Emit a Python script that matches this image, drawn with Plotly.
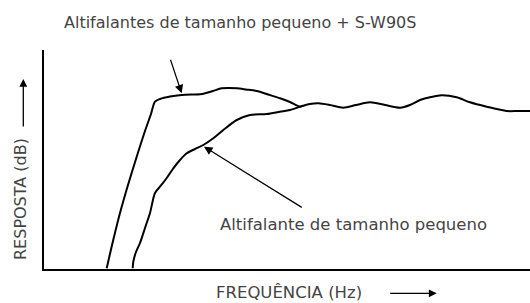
import plotly.graph_objects as go

# Relative units (frequency -> right, response -> up)
freq_combo = [106.7, 113, 120, 128, 136.7, 145, 151, 155, 160, 170, 181.7, 192, 200, 207, 213, 221.7, 229, 236.7, 246, 256.7, 268, 280, 290, 300, 303.3]
resp_combo = [0.7, 28, 56, 84, 112.3, 138, 155, 167.3, 170, 172.5, 174, 174.5, 174.7, 176.3, 178, 180.7, 181, 180.7, 179.5, 178, 174.5, 170.7, 167, 162.3, 163.3]

freq_small = [132.7, 133.3, 136, 140, 145, 150, 155, 160, 166, 173.3, 180, 186.7, 195, 203.3, 213.3, 223.3, 236.7, 250, 266.7, 280, 290, 303.3, 310, 318.3, 330, 343.3, 356, 370, 385, 400, 410, 420, 431, 441.7, 456.7, 470, 486.7, 506.7, 518, 530]
resp_small = [0.7, 7.3, 17, 26, 41, 56, 76, 82.3, 90, 100.7, 109, 115.7, 120, 124, 130.7, 139, 149, 154, 155, 157.3, 159, 163.3, 165, 165.7, 164, 161.3, 164, 166.7, 164, 161.3, 164, 169, 172, 173.7, 171.7, 166.7, 162.3, 158, 158, 158]

fig = go.Figure()
fig.add_trace(go.Scatter(x=freq_combo, y=resp_combo, mode="lines",
                         line=dict(color="black", width=2, shape="spline", smoothing=0.8),
                         hoverinfo="skip", showlegend=False))
fig.add_trace(go.Scatter(x=freq_small, y=resp_small, mode="lines",
                         line=dict(color="black", width=2, shape="spline", smoothing=0.8),
                         hoverinfo="skip", showlegend=False))

L, T, B = 44, 50, 34
W, H = 530, 303
PW, PH = W - L, H - T - B

def px(xp):
    return (xp - L) / PW

def py(yp):
    return (H - B - yp) / PH

FONT = "DejaVu Sans"
TC = "#444444"
C = dict(xanchor="center", yanchor="middle", showarrow=False)

anns = [
    dict(text="Altifalantes de tamanho pequeno + S-W90S", xref="paper", yref="paper",
         x=px(239.5), y=py(22.5), font=dict(family=FONT, size=16, color=TC), **C),
    dict(text="Altifalante de tamanho pequeno", xref="x", yref="y",
         x=353.3, y=PH + T - 224.5, font=dict(family=FONT, size=16.5, color=TC), **C),
    dict(text="RESPOSTA (dB)", xref="paper", yref="paper", textangle=-90,
         x=px(20), y=py(199), font=dict(family=FONT, size=16, color=TC), **C),
    dict(text="FREQUÊNCIA (Hz)", xref="paper", yref="paper",
         x=px(288.7), y=py(292.5), font=dict(family=FONT, size=16.5, color=TC), **C),
    # axis arrows
    dict(text="", xref="paper", yref="paper", x=px(23.3), y=py(79), ax=0, ay=49,
         showarrow=True, arrowhead=2, arrowsize=1.2, arrowwidth=1.3, arrowcolor="black"),
    dict(text="", xref="paper", yref="paper", x=px(436.7), y=py(293.3), ax=-48, ay=0,
         showarrow=True, arrowhead=2, arrowsize=1.2, arrowwidth=1.3, arrowcolor="black"),
    # curve pointers
    dict(text="", xref="x", yref="y", axref="x", ayref="y", x=181.7, y=175.7, ax=170, ay=210.7,
         showarrow=True, arrowhead=2, arrowsize=1.4, arrowwidth=1.2, arrowcolor="black"),
    dict(text="", xref="x", yref="y", axref="x", ayref="y", x=204, y=122.3, ax=303.3, ay=60.7,
         showarrow=True, arrowhead=2, arrowsize=1.4, arrowwidth=1.2, arrowcolor="black"),
]

fig.update_layout(
    width=W, height=H, margin=dict(l=L, r=0, t=T, b=B),
    paper_bgcolor="white", plot_bgcolor="white",
    xaxis=dict(range=[L, W], showgrid=False, zeroline=False, showticklabels=False, ticks="",
               showline=True, linecolor="black", linewidth=2),
    yaxis=dict(range=[0, PH], showgrid=False, zeroline=False, showticklabels=False, ticks="",
               showline=True, linecolor="black", linewidth=2),
    annotations=anns,
)
fig.write_html("out.html", config={"displayModeBar": False},
               post_script="document.body.style.margin='0';document.body.style.overflow='hidden';")
